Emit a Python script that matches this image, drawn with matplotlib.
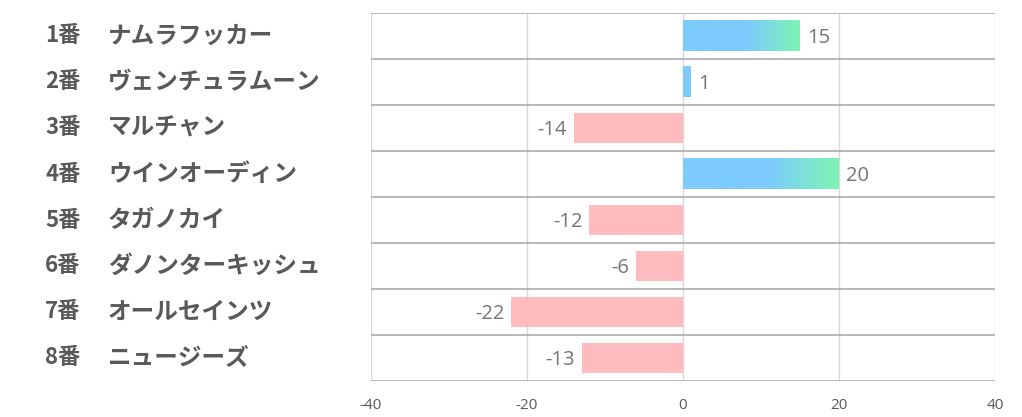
import numpy as np
import matplotlib
matplotlib.use("Agg")
import matplotlib.pyplot as plt
from matplotlib.colors import LinearSegmentedColormap

plt.rcParams["font.family"] = ["Noto Sans CJK JP", "DejaVu Sans"]

numbers = ["1番", "2番", "3番", "4番", "5番", "6番", "7番", "8番"]
names = ["ナムラフッカー", "ヴェンチュラムーン", "マルチャン", "ウインオーディン",
         "タガノカイ", "ダノンターキッシュ", "オールセインツ", "ニュージーズ"]
values = [15, 1, -14, 20, -12, -6, -22, -13]
xticks = [-40, -20, 0, 20, 40]

W, H = 1022, 417
fig = plt.figure(figsize=(W / 100, H / 100), dpi=100)
ax = fig.add_axes([371 / W, 1 - 381 / H, (995 - 371) / W, (381 - 13) / H])

n = len(values)
ypos = np.arange(n)
bar_h = 0.67
pink = "#FFBBBE"
grad = LinearSegmentedColormap.from_list(
    "bg", [(0, "#7DCBFF"), (0.55, "#7DCBFF"), (1, "#7EF5B2")])
gradient = np.linspace(0, 1, 256).reshape(1, -1)
num_font = ["Open Sans", "DejaVu Sans"]

for y, v in zip(ypos, values):
    if v >= 0:
        cmap = grad if v > 2 else LinearSegmentedColormap.from_list("b", ["#7DCBFF", "#7DCBFF"])
        ax.imshow(gradient, cmap=cmap, aspect="auto",
                  extent=(0, v, y + bar_h / 2, y - bar_h / 2), zorder=2)
        ax.text(v + 0.9, y + 0.05, str(v), ha="left", va="center",
                fontsize=14.5, color="#757575", family=num_font)
    else:
        ax.barh(y, v, height=bar_h, color=pink, zorder=2)
        ax.text(v - 0.9, y + 0.05, str(v), ha="right", va="center",
                fontsize=14.5, color="#757575", family=num_font)

ax.set_xlim(-40, 40)
ax.set_ylim(n - 0.5, -0.5)
ax.set_xticks(xticks)
ax.set_xticklabels([str(t) for t in xticks], color="#595959", fontsize=11,
                   family=num_font)
ax.tick_params(axis="x", length=0, pad=12)
ax.set_yticks([])
for t in xticks:
    ax.axvline(t, color="#D9D9D9", lw=1, zorder=1)
for b in np.arange(-0.5, n, 1.0):
    ax.axhline(b, color="#ABABAB", lw=1.2, zorder=3)
for s in ax.spines.values():
    s.set_visible(False)

for y, num, name in zip(ypos, numbers, names):
    yf = 1 - (13 + (y + 0.5) * (381 - 13) / n) / H
    fig.text(45 / W, yf, num, ha="left", va="center", fontsize=16,
             fontweight="bold", color="#595959")
    fig.text(108 / W, yf, name, ha="left", va="center", fontsize=17,
             fontweight="bold", color="#595959")

fig.savefig("out.png", dpi=100)
